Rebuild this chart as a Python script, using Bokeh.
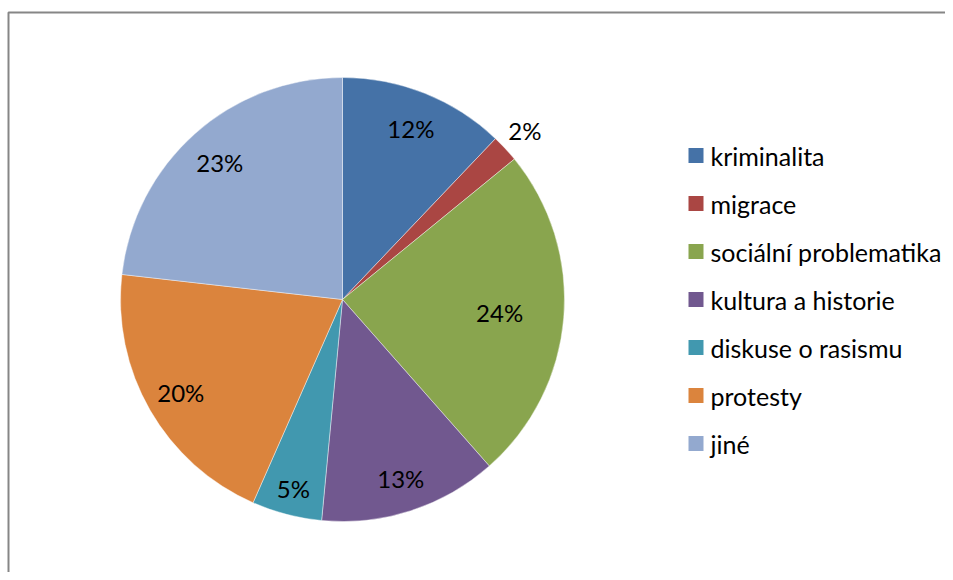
import math
from bokeh.plotting import figure
from bokeh.models import Range1d, ColumnDataSource
from bokeh.core.properties import value
from bokeh.embed import file_html
from bokeh.resources import INLINE

categories = ["kriminalita", "migrace", "sociální problematika", "kultura a historie",
              "diskuse o rasismu", "protesty", "jiné"]
shares = [12.1, 2.0, 24.4, 13.0, 5.1, 20.2, 23.2]
colors = ["#4572A7", "#AA4643", "#89A54E", "#71588F", "#4198AF", "#DB843D", "#93A9CF"]

# label placement style (fraction of radius)
label_radius = [0.83, 1.12, 0.71, 0.85, 0.88, 0.84, 0.83]

W, H = 945, 572
FONT = "Lato"

p = figure(width=W, height=H, output_backend="svg", toolbar_location=None,
           x_range=Range1d(0, W), y_range=Range1d(0, H),
           x_axis_type=None, y_axis_type=None, min_border=0)
p.grid.visible = False
p.outline_line_color = None
p.background_fill_color = "white"
p.border_fill_color = "white"

# chart frame
p.quad(left=[8], right=[W + 20], top=[H - 12], bottom=[-20],
       fill_color=None, line_color="#868686", line_width=2)

cx, cy, r = 342, H - 299, 222
total = sum(shares)
starts, ends, lx, ly, labels = [], [], [], [], []
cum = 0.0
for v, lr in zip(shares, label_radius):
    a0 = math.pi / 2 - 2 * math.pi * (cum + v) / total
    a1 = math.pi / 2 - 2 * math.pi * cum / total
    starts.append(a0)
    ends.append(a1)
    mid = (a0 + a1) / 2
    lx.append(cx + r * lr * math.cos(mid))
    ly.append(cy + r * lr * math.sin(mid))
    labels.append(f"{round(v * 100 / total)}%")
    cum += v

src = ColumnDataSource(dict(start=starts, end=ends, color=colors, cat=categories,
                            lx=lx, ly=ly, lab=labels))
p.wedge(x=cx, y=cy, radius=r, start_angle="start", end_angle="end",
        fill_color="color", line_color="white", line_width=0.6, line_alpha=0.7,
        source=src)
p.text(x="lx", y="ly", text="lab", source=src, text_align="center",
       text_baseline="middle", text_font=value(FONT), text_font_size="24px",
       text_color="black")

# legend
n = len(categories)
leg_y = [H - 155 - 48 * i for i in range(n)]
leg_src = ColumnDataSource(dict(y=leg_y, color=colors, cat=categories))
p.rect(x=695.5, y="y", width=15, height=15, fill_color="color", line_color=None,
       source=leg_src)
p.text(x=710, y="y", text="cat", source=leg_src, text_align="left",
       text_baseline="middle", text_font=value(FONT), text_font_size="25px",
       text_color="black")

open("out.html", "w").write(file_html(p, INLINE))
